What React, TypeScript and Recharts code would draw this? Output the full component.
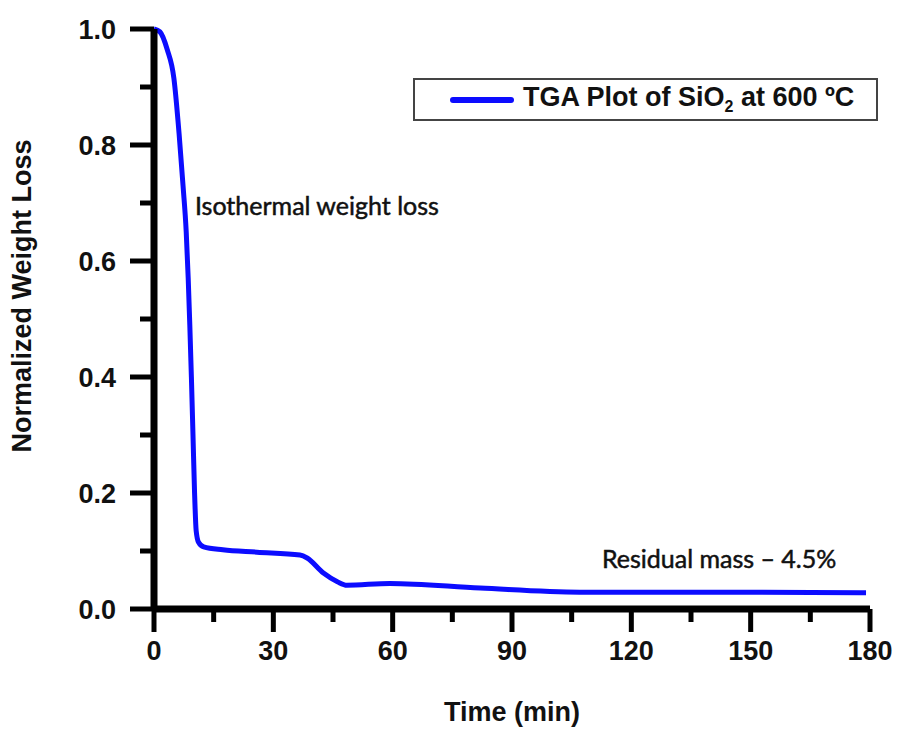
import { Legend, Line, LineChart, ReferenceDot, XAxis, YAxis } from 'recharts'

// TGA of SiO2 held at 600 °C: normalized weight vs time
const minutes = [
  0, 1.5, 3.3, 5.0, 6.3, 7.3, 8.1, 8.6, 9.0, 9.4, 9.8, 10.2, 10.6, 11.2, 12.5,
  17.3, 25.9, 36.7, 38.5, 42.6, 46.1, 48.5, 59.3, 82, 107, 141, 179,
]
const weight = [
  1.0, 0.995, 0.965, 0.915, 0.82, 0.73, 0.65, 0.57, 0.49, 0.4, 0.3, 0.2, 0.135,
  0.115, 0.107, 0.102, 0.098, 0.093, 0.088, 0.062, 0.047, 0.041, 0.044, 0.036,
  0.029, 0.029, 0.028,
]

const xTicks = [0, 15, 30, 45, 60, 75, 90, 105, 120, 135, 150, 165, 180]
const yTicks = [0, 0.1, 0.2, 0.3, 0.4, 0.5, 0.6, 0.7, 0.8, 0.9, 1.0]

const notes = [
  { t: 10.3, w: 0.679, text: 'Isothermal weight loss' },
  { t: 112.6, w: 0.0707, text: 'Residual mass \u2013 4.5%' },
]

const data = minutes.map((t, i) => ({ t, w: weight[i] }))

const BLUE = '#0c0cff'
const FONT = '"Liberation Sans", Arial, sans-serif'
const NOTE_FONT = 'Lato, "Open Sans", sans-serif'

function XTick({ x, y, payload }: any) {
  const major = payload.value % 30 === 0
  return (
    <g>
      <line x1={x} y1={y} x2={x} y2={y + (major ? 23 : 13)} stroke="#000" strokeWidth={5} />
      {major && (
        <text x={x} y={y + 51} textAnchor="middle" fontFamily={FONT} fontWeight={700} fontSize={27} fill="#111">
          {payload.value}
        </text>
      )}
    </g>
  )
}

function YTick({ x, y, payload }: any) {
  const major = Math.round(payload.value * 10) % 2 === 0
  return (
    <g>
      <line x1={x} y1={y} x2={x - (major ? 24 : 14)} y2={y} stroke="#000" strokeWidth={5} />
      {major && (
        <text x={x - 38} y={y + 10} textAnchor="end" fontFamily={FONT} fontWeight={700} fontSize={27} fill="#111">
          {payload.value.toFixed(1)}
        </text>
      )}
    </g>
  )
}

function LegendBox() {
  return (
    <div
      style={{
        width: 461,
        height: 39,
        border: '2px solid #444',
        display: 'flex',
        alignItems: 'center',
        fontFamily: FONT,
        fontWeight: 700,
        fontSize: 27,
        color: '#111',
        whiteSpace: 'nowrap',
      }}
    >
      <span
        style={{
          display: 'inline-block',
          width: 64,
          height: 6,
          borderRadius: 3,
          background: BLUE,
          marginLeft: 35,
          marginRight: 9,
        }}
      />
      <span>
        TGA Plot of SiO<sub style={{ fontSize: 16 }}>2</sub> at 600 ºC
      </span>
    </div>
  )
}

export default function App() {
  return (
    <div style={{ position: 'absolute', left: 0, top: 0, background: '#fff' }}>
      <LineChart width={899} height={731} data={data} margin={{ top: 29, right: 29, bottom: 0, left: 0 }}>
        <XAxis
          dataKey="t"
          type="number"
          domain={[0, 180]}
          ticks={xTicks}
          interval={0}
          height={122}
          tickSize={0}
          tickMargin={0}
          tickLine={false}
          tick={<XTick />}
          axisLine={{ stroke: '#000', strokeWidth: 7 }}
          label={{
            content: ({ viewBox }: any) => (
              <text
                x={viewBox.x + viewBox.width / 2}
                y={viewBox.y + 112}
                textAnchor="middle"
                fontFamily={FONT}
                fontWeight={700}
                fontSize={27}
                fill="#111"
              >
                Time (min)
              </text>
            ),
          }}
        />
        <YAxis
          type="number"
          domain={[0, 1]}
          ticks={yTicks}
          interval={0}
          width={154}
          tickSize={0}
          tickMargin={0}
          tickLine={false}
          tick={<YTick />}
          axisLine={{ stroke: '#000', strokeWidth: 7 }}
          label={{
            content: ({ viewBox }: any) => {
              const cx = viewBox.x + 31
              const cy = viewBox.y + 267
              return (
                <text
                  x={cx}
                  y={cy}
                  transform={`rotate(-90, ${cx}, ${cy})`}
                  textAnchor="middle"
                  fontFamily={FONT}
                  fontWeight={700}
                  fontSize={27}
                  fill="#111"
                >
                  Normalized Weight Loss
                </text>
              )
            },
          }}
        />
        <Legend
          layout="horizontal"
          verticalAlign="middle"
          align="center"
          content={() => <LegendBox />}
          wrapperStyle={{ left: 413, top: 78, width: 465, height: 43 }}
        />
        <Line
          type="monotone"
          dataKey="w"
          stroke={BLUE}
          strokeWidth={5}
          dot={false}
          isAnimationActive={false}
          legendType="none"
        />
        {notes.map((n) => (
          <ReferenceDot
            key={n.text}
            x={n.t}
            y={n.w}
            r={0}
            fill="none"
            stroke="none"
            label={{
              content: ({ viewBox }: any) => (
                <text
                  x={viewBox.x}
                  y={viewBox.y}
                  fontFamily={NOTE_FONT}
                  fontSize={25}
                  fill="#111"
                  stroke="#111"
                  strokeWidth={0.5}
                >
                  {n.text}
                </text>
              ),
            }}
          />
        ))}
      </LineChart>
    </div>
  )
}
